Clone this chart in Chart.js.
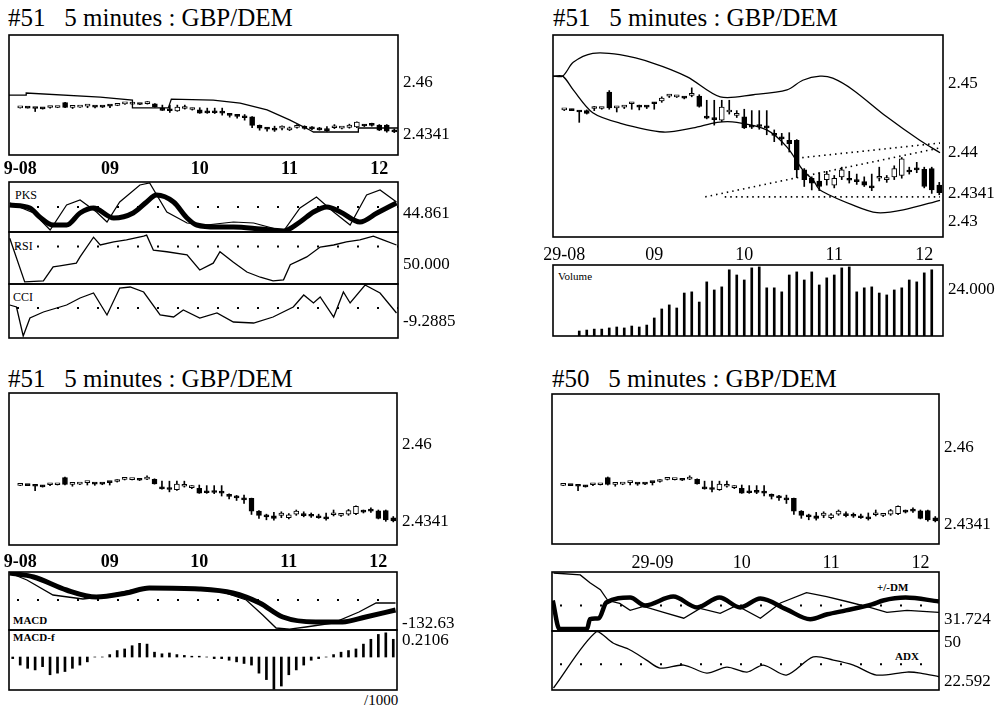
<!DOCTYPE html>
<html lang="en">
<head>
  <meta charset="UTF-8">
  <title>5 minutes : GBP/DEM</title>
  <script src="https://cdn.jsdelivr.net/npm/chart.js"></script>
  <style>
    body { margin: 0; width: 1001px; height: 709px; position: relative; overflow: hidden; background: #fff; font-family: "Liberation Serif", serif; color: #000; }
    canvas { position: absolute; }
    .title { position: absolute; font-size: 25px; line-height: 28px; white-space: pre; }
    .tag { position: absolute; font-size: 12px; white-space: pre; }
  </style>
</head>
<body>
  <div class="title" style="left:8px;top:4px">#51   5 minutes : GBP/DEM</div>
  <div class="title" style="left:553px;top:4px">#51   5 minutes : GBP/DEM</div>
  <div class="title" style="left:8px;top:365px">#51   5 minutes : GBP/DEM</div>
  <div class="title" style="left:552px;top:365px">#50   5 minutes : GBP/DEM</div>

  <div class="tag" style="left:15px;top:188px">PKS</div>
  <div class="tag" style="left:14px;top:239px">RSI</div>
  <div class="tag" style="left:13px;top:290px">CCI</div>
  <div class="tag" style="left:558px;top:270px;font-size:11px">Volume</div>
  <div class="tag" style="left:13px;top:614px;font-weight:bold;font-size:11px">MACD</div>
  <div class="tag" style="left:13px;top:631px;font-weight:bold;font-size:11px">MACD-f</div>
  <div class="tag" style="left:877px;top:581px;font-weight:bold;font-size:11px">+/-DM</div>
  <div class="tag" style="left:895px;top:650px;font-weight:bold;font-size:11px">ADX</div>
  <div class="tag" style="left:364px;top:692px;font-size:15px">/1000</div>

  <script>
    Chart.defaults.font.family = '"Liberation Serif", serif';

    // hour ticks on the 5-minute index axis
    const hourTicks = [1, 13, 25, 37, 49];
    const hourLabelsA = ['9-08', '09', '10', '11', '12'];
    const hourLabelsB = ['29-08', '09', '10', '11', '12'];
    const hourLabelsC = ['', '29-09', '10', '11', '12'];

    // candles (index 0 empty)
    const openP = [null, 2.4461, 2.4461, 2.4459, 2.4460, 2.4463, 2.4463, 2.4487, 2.4464, 2.4465, 2.4470, 2.4466, 2.4466, 2.4471, 2.4474, 2.4481, 2.4480, 2.4479, 2.4482, 2.4481, 2.4452, 2.4448, 2.4446, 2.4458, 2.4453, 2.4451, 2.4437, 2.4438, 2.4436, 2.4425, 2.4420, 2.4417, 2.4417, 2.4374, 2.4362, 2.4358, 2.4360, 2.4352, 2.4364, 2.4360, 2.4358, 2.4357, 2.4350, 2.4362, 2.4360, 2.4364, 2.4366, 2.4372, 2.4375, 2.4375, 2.4376, 2.4352];
    const highP = [null, 2.4462, 2.4462, 2.4460, 2.4461, 2.4466, 2.4464, 2.4489, 2.4466, 2.4467, 2.4472, 2.4468, 2.4467, 2.4472, 2.4480, 2.4483, 2.4482, 2.4480, 2.4493, 2.4483, 2.4475, 2.4475, 2.4475, 2.4475, 2.4460, 2.4462, 2.4460, 2.4460, 2.4460, 2.4432, 2.4427, 2.4428, 2.4418, 2.4376, 2.4364, 2.4370, 2.4372, 2.4366, 2.4378, 2.4372, 2.4368, 2.4364, 2.4368, 2.4378, 2.4366, 2.4380, 2.4392, 2.4378, 2.4385, 2.4378, 2.4378, 2.4356];
    const lowP = [null, 2.4460, 2.4460, 2.4443, 2.4455, 2.4460, 2.4462, 2.4462, 2.4458, 2.4463, 2.4462, 2.4461, 2.4463, 2.4462, 2.4472, 2.4479, 2.4479, 2.4477, 2.4480, 2.4465, 2.4448, 2.4439, 2.4444, 2.4455, 2.4450, 2.4434, 2.4434, 2.4433, 2.4425, 2.4415, 2.4410, 2.4400, 2.4363, 2.4350, 2.4345, 2.4344, 2.4352, 2.4348, 2.4360, 2.4355, 2.4353, 2.4350, 2.4344, 2.4358, 2.4356, 2.4360, 2.4362, 2.4368, 2.4370, 2.4348, 2.4340, 2.4338];
    const closeP = [null, 2.4461, 2.4460, 2.4458, 2.4456, 2.4464, 2.4463, 2.4464, 2.4464, 2.4465, 2.4471, 2.4465, 2.4465, 2.4470, 2.4478, 2.4481, 2.4480, 2.4478, 2.4483, 2.4466, 2.4449, 2.4447, 2.4465, 2.4459, 2.4455, 2.4435, 2.4436, 2.4437, 2.4435, 2.4424, 2.4419, 2.4412, 2.4374, 2.4360, 2.4355, 2.4350, 2.4368, 2.4362, 2.4374, 2.4359, 2.4357, 2.4352, 2.4348, 2.4362, 2.4362, 2.4376, 2.4390, 2.4371, 2.4374, 2.4350, 2.4345, 2.4341];

    // stop line (top left), [index, price]
    const stopLine = [[-0.5, 2.4525], [1.8, 2.4525], [1.8, 2.4535], [11.7, 2.4515], [16, 2.4500], [16, 2.4461], [20.8, 2.4461], [21.2, 2.4505], [26.8, 2.4500], [30.4, 2.4485], [34, 2.4451], [37, 2.4401], [39.7, 2.4351], [40.2, 2.4341], [46.2, 2.4341], [46.2, 2.4361], [51.5, 2.4361]];

    // bands and trend lines (top right)
    const bandUpper = [[-0.5, 2.4510], [0.8, 2.4510], [2.2, 2.4530], [4.8, 2.4543], [8.4, 2.4541], [12.8, 2.4529], [17.4, 2.4509], [21.8, 2.4480], [26.2, 2.4483], [30.7, 2.4490], [32.8, 2.4504], [35.1, 2.4510], [36.8, 2.4507], [39.5, 2.4490], [44, 2.4451], [48.4, 2.4417], [51.1, 2.4399]];
    const bandLower = [[-0.5, 2.4510], [0.8, 2.4510], [2.2, 2.4490], [4.8, 2.4457], [8.4, 2.4442], [14.2, 2.4429], [18.2, 2.4435], [21.4, 2.4443], [24, 2.4443], [28, 2.4432], [30.7, 2.4407], [32.8, 2.4374], [34.2, 2.4359], [35.1, 2.4345], [39.5, 2.4323], [42.7, 2.4312], [46.2, 2.4316], [51.1, 2.4330]];
    const trendA = [[19.8, 2.4335], [51.1, 2.4406]];
    const trendB = [[32, 2.4391], [51.1, 2.4413]];
    const trendC = [[22.4, 2.4335], [51.1, 2.4335]];

    const volume = [null, null, null, 2600, 3100, 3600, 3600, 4200, 4700, 4200, 5200, 4700, 5700, 9400, 14100, 16200, 14600, 22400, 23000, 17700, 28200, 24000, 25600, 34500, 31800, 29200, 35500, 36000, 25100, 25100, 23000, 31800, 33400, 29200, 33400, 26600, 30300, 31800, 35500, 36000, 23000, 25100, 25600, 22400, 21400, 24000, 25100, 29200, 28200, 32900, 34500, null];

    // oscillators, [index, value]
    const pksSlow = [[-0.4, 54], [2.3, 48], [3.6, 30], [5.4, 14], [7.2, 14], [9, 38], [10.8, 48], [13.5, 28], [16.1, 38], [17.9, 60], [19.2, 74], [21.5, 60], [23.3, 28], [24.6, 14], [27.3, 10], [29.5, 10], [33.1, 6], [36.2, 2], [38.4, 20], [40.2, 40], [42, 50], [43.8, 40], [46.4, 20], [48.7, 38], [51.3, 58]];
    const pksFast = [[-0.4, 58], [2.8, 38], [5, 4], [7.2, 54], [9, 64], [11.2, 40], [12.6, 20], [14.3, 60], [17, 94], [18.3, 98], [20.6, 40], [23.3, 18], [25.9, 14], [29.5, 20], [32.2, 18], [36.2, 2], [38.4, 48], [40.6, 70], [42.9, 40], [45.1, 14], [47.3, 74], [49.1, 84], [51.3, 60]];
    const rsi = [[-0.4, 88], [1.6, 4], [4.1, 6], [5.4, 33], [6.3, 35], [8.5, 40], [9, 52], [10.8, 90], [11.7, 75], [13.5, 81], [15.2, 85], [17.5, 92], [17.9, 94], [18.8, 65], [20.6, 62], [23.3, 56], [25, 27], [26.8, 40], [27.7, 62], [29.5, 42], [31.3, 23], [33.1, 13], [34.8, 6], [36.2, 8], [37.1, 37], [38.4, 46], [39.3, 52], [41.1, 71], [42.9, 75], [44.6, 81], [46.4, 85], [48.2, 92], [49.5, 85], [51.3, 75]];
    const cci = [[-0.4, 30], [0.5, 10], [1.4, -280], [2.3, -100], [4.1, -40], [7.2, 30], [9, 100], [10.8, 150], [12.6, -70], [14.3, 200], [15.7, 210], [17.5, 160], [19.7, -70], [21.5, -90], [22.8, -20], [25, -100], [27.3, -50], [29.5, -140], [32.2, -150], [34.8, -90], [37.5, 10], [38.9, 130], [40.2, 50], [41.1, 110], [42.9, -90], [44.2, 160], [45.1, 50], [47.1, 230], [49.1, 150], [51.3, -50]];
    const macd = [[-0.4, 162], [2.8, 138], [7.2, 60], [11.2, 18], [15.2, 42], [18.3, 72], [25, 66], [29.5, 42], [33.1, -18], [36.2, -102], [40.6, -132], [44.2, -132], [47.3, -102], [51.3, -60]];
    const macdSignal = [[-0.4, 162], [1.9, 120], [5.4, 30], [9.4, 6], [11.7, 18], [16.1, 60], [20.6, 72], [27.3, 60], [31.3, 0], [33.5, -90], [35.3, -168], [37.1, -175], [39.3, -162], [42.9, -138], [46.4, -72], [48.7, -18], [51.3, -18]];
    const macdHist = [-0.02, -0.1, -0.14, -0.16, -0.12, -0.22, -0.2, -0.18, -0.14, -0.1, -0.06, 0, 0, 0.03, 0.08, 0.1, 0.14, 0.17, 0.16, 0.06, 0.04, 0.05, 0.03, 0.02, 0.01, 0.01, 0, -0.02, -0.02, -0.04, -0.06, -0.08, -0.1, -0.2, -0.28, -0.4, -0.36, -0.22, -0.16, -0.1, -0.04, -0.02, 0, 0.03, 0.06, 0.08, 0.1, 0.16, 0.22, 0.28, 0.3, 0.22];
    const dmThick = [[-0.4, 31], [0.5, 2], [4.2, 2], [4.6, 12], [5.8, 13], [6.8, 29], [10, 34], [12, 26], [15.8, 35], [19, 24], [22, 34], [24.8, 24], [27.5, 33], [31, 22], [34.2, 12], [36.5, 17], [39, 21], [42.5, 27], [44, 31], [47, 34], [51.5, 30]];
    const dmThin = [[-0.3, 59], [3.3, 57], [4.6, 49], [6, 42], [7, 31], [8.6, 28], [10, 21], [11.8, 25], [14.5, 19], [17.2, 13], [19.4, 23], [22.1, 18], [24.3, 26], [27.5, 13], [30.2, 28.5], [33.7, 39], [36.4, 35], [39.1, 30], [42.2, 24], [44.5, 19], [47.2, 21], [51.5, 19]];
    const adx = [[-0.3, 18.4], [5.5, 58], [7.7, 50], [10, 45.1], [12.2, 38], [14, 32.4], [17.2, 34.5], [20.3, 28.9], [23, 33.1], [25.7, 29.6], [27.9, 34.5], [31, 27.5], [34.6, 40.2], [37.3, 38], [40, 34.5], [43.1, 27.5], [47.2, 29.6], [49, 28.9], [51.7, 26.1]];

    const pts = arr => arr.map(([x, y]) => ({ x, y }));
    const level = v => [{ x: -0.5, y: v }, { x: 51.5, y: v }];

    function line(data, w, extra) {
      return Object.assign({ type: 'line', data: pts(data), borderColor: '#000', borderWidth: w, pointRadius: 0, tension: 0, order: 0 }, extra);
    }
    function dots(v) {
      return { type: 'line', data: level(v), borderColor: '#000', borderWidth: 2, borderDash: [2, 18], borderDashOffset: -8, pointRadius: 0, order: 3 };
    }
    function candles() {
      const wick = [], body = [], fill = [];
      for (let i = 0; i < closeP.length; i++) {
        if (closeP[i] == null) continue;
        wick.push({ x: i, y: [lowP[i], highP[i]] });
        body.push({ x: i, y: [Math.min(openP[i], closeP[i]), Math.max(openP[i], closeP[i])] });
        fill.push(closeP[i] >= openP[i] ? '#fff' : '#000');
      }
      return [
        { type: 'bar', data: wick, backgroundColor: '#000', barThickness: 1, grouped: false, order: 2 },
        { type: 'bar', data: body, backgroundColor: fill, borderColor: '#000', borderWidth: 1, borderSkipped: false, barThickness: 5, minBarLength: 2, grouped: false, order: 1 }
      ];
    }
    function bars(values, w) {
      const data = [];
      values.forEach((v, i) => { if (v != null) data.push({ x: i, y: v }); });
      return { type: 'bar', data, backgroundColor: '#000', barThickness: w, grouped: false, order: 1 };
    }

    // box drawn round the plot area
    const frame = {
      id: 'frame',
      afterDraw(chart) {
        const { ctx, chartArea: a } = chart;
        ctx.save();
        ctx.strokeStyle = '#000';
        ctx.lineWidth = 1.6;
        ctx.strokeRect(a.left, a.top, a.right - a.left, a.bottom - a.top);
        ctx.restore();
      }
    };

    const RW = 80, PADL = 30, PADT = 18;

    function panel(box, cfg) {
      const xh = cfg.xLabels ? cfg.xh : 0;
      const padB = cfg.xLabels ? 0 : 18;
      const W = box.w + PADL + RW, H = box.h + PADT + xh + padB;
      const cv = document.createElement('canvas');
      cv.width = W; cv.height = H;
      cv.style.left = (box.x - PADL) + 'px';
      cv.style.top = (box.y - PADT) + 'px';
      cv.style.width = W + 'px';
      cv.style.height = H + 'px';
      document.body.appendChild(cv);
      new Chart(cv, {
        type: 'line',
        data: { datasets: cfg.datasets },
        options: {
          responsive: false,
          animation: false,
          events: [],
          layout: { padding: { left: PADL, top: PADT, right: 0, bottom: padB } },
          plugins: { legend: { display: false }, tooltip: { enabled: false } },
          scales: {
            x: {
              type: 'linear', min: -0.5, max: 51.5, offset: false,
              display: !!cfg.xLabels,
              grid: { display: false, drawTicks: false, offset: false },
              border: { display: false },
              afterBuildTicks: s => { s.ticks = hourTicks.map(v => ({ value: v })); },
              afterFit: s => { s.height = xh; },
              ticks: {
                autoSkip: false, maxRotation: 0, padding: cfg.xPad || 4, color: '#000',
                font: { size: 18, weight: cfg.xBold ? 'bold' : 'normal' },
                callback: (v, i) => cfg.xLabels ? cfg.xLabels[i] : ''
              }
            },
            y: {
              position: 'right', min: cfg.min, max: cfg.max,
              grid: { display: false, drawTicks: false },
              border: { display: false },
              afterBuildTicks: s => { s.ticks = cfg.yTicks.map(v => ({ value: v })); },
              afterFit: s => { s.width = RW; },
              ticks: {
                padding: 5, labelOffset: cfg.labelOffset || 0, color: '#000',
                font: { size: 17 },
                callback: (v, i) => cfg.yLabels[i]
              }
            }
          }
        },
        plugins: [frame]
      });
    }

    // ---- top left
    panel({ x: 9, y: 35, w: 389, h: 120 }, {
      min: 2.42265, max: 2.48241, yTicks: [2.46, 2.4341], yLabels: ['2.46', '2.4341'], labelOffset: 3,
      xLabels: hourLabelsA, xBold: true, xh: 28, xPad: 4,
      datasets: [...candles(), line(stopLine, 1.3)]
    });
    panel({ x: 9, y: 182, w: 389, h: 50 }, {
      min: 0, max: 100, yTicks: [44.861], yLabels: ['44.861'], labelOffset: 4,
      datasets: [dots(50), line(pksFast, 1.2), line(pksSlow, 5, { cubicInterpolationMode: 'monotone' })]
    });
    panel({ x: 9, y: 232, w: 389, h: 52 }, {
      min: 0, max: 100, yTicks: [50], yLabels: ['50.000'], labelOffset: 7,
      datasets: [dots(72), line(rsi, 1.3)]
    });
    panel({ x: 9, y: 284, w: 389, h: 54 }, {
      min: -300, max: 240, yTicks: [-9.2885], yLabels: ['-9.2885'], labelOffset: 13,
      datasets: [dots(0), line(cci, 1.3)]
    });

    // ---- top right
    panel({ x: 553, y: 35, w: 390, h: 202 }, {
      min: 2.42768, max: 2.45696, yTicks: [2.45, 2.44, 2.4341, 2.43], yLabels: ['2.45', '2.44', '2.4341', '2.43'], labelOffset: 1,
      xLabels: hourLabelsB, xh: 30, xPad: 7,
      datasets: [
        ...candles(),
        line(bandUpper, 1.3, { tension: 0.3 }),
        line(bandLower, 1.3, { tension: 0.3 }),
        line(trendA, 1.6, { borderDash: [1.5, 4] }),
        line(trendB, 1.6, { borderDash: [1.5, 4] }),
        line(trendC, 1.6, { borderDash: [1.5, 4] })
      ]
    });
    panel({ x: 553, y: 265, w: 390, h: 71 }, {
      min: 0, max: 37000, yTicks: [24000], yLabels: ['24.000'],
      datasets: [bars(volume, 2)]
    });

    // ---- bottom left
    panel({ x: 9, y: 393, w: 388, h: 152 }, {
      min: 2.42603, max: 2.47715, yTicks: [2.46, 2.4341], yLabels: ['2.46', '2.4341'], labelOffset: 1,
      xLabels: hourLabelsA, xBold: true, xh: 28, xPad: 7,
      datasets: candles()
    });
    panel({ x: 9, y: 572, w: 388, h: 58 }, {
      min: -180, max: 168, yTicks: [-132.63], yLabels: ['-132.63'], labelOffset: 1,
      datasets: [dots(0), line(macdSignal, 1.3), line(macd, 5, { cubicInterpolationMode: 'monotone' })]
    });
    panel({ x: 9, y: 630, w: 388, h: 60 }, {
      min: -0.409, max: 0.335, yTicks: [0.2106], yLabels: ['0.2106'],
      datasets: [bars(macdHist, 2)]
    });

    // ---- bottom right
    panel({ x: 552, y: 394, w: 387, h: 150 }, {
      min: 2.42636, max: 2.47682, yTicks: [2.46, 2.4341], yLabels: ['2.46', '2.4341'], labelOffset: 4,
      xLabels: hourLabelsC, xh: 30, xPad: 8,
      datasets: candles()
    });
    panel({ x: 552, y: 572, w: 387, h: 59 }, {
      min: 0, max: 60, yTicks: [31.724], yLabels: ['31.724'], labelOffset: 20,
      datasets: [dots(26), line(dmThin, 1.3), line(dmThick, 4.5, { cubicInterpolationMode: 'monotone' })]
    });
    panel({ x: 552, y: 631, w: 387, h: 59 }, {
      min: 17, max: 58.4, yTicks: [50, 22.592], yLabels: ['50', '22.592'],
      datasets: [dots(35), line(adx, 1.3, { tension: 0.3 })]
    });
  </script>
</body>
</html>
